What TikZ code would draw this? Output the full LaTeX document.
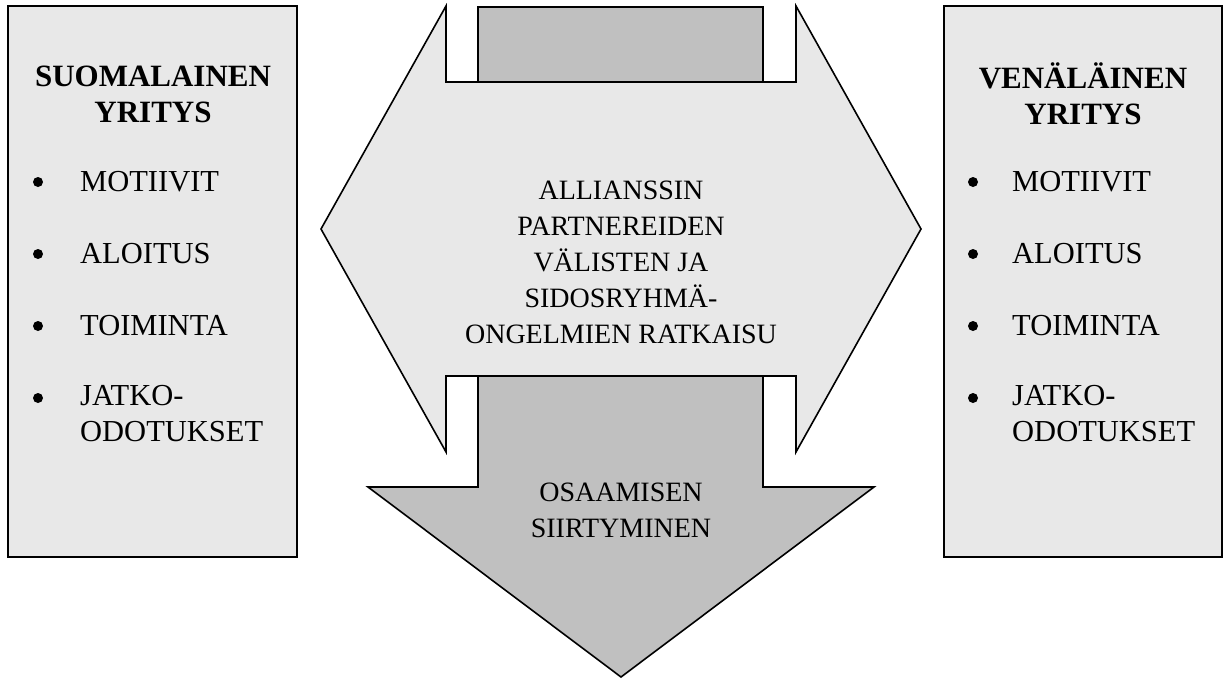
\documentclass[tikz,border=0pt]{standalone}
\usepackage{fontspec}
\setmainfont{Liberation Serif}
\definecolor{palefill}{HTML}{E8E8E8}
\definecolor{darkfill}{HTML}{C0C0C0}
\begin{document}
\begin{tikzpicture}[x=1pt,y=-1pt,
  outline/.style={draw=black,line width=1.6pt,line join=miter},
  sidebox/.style={outline,fill=palefill},
  txt/.style={inner sep=0pt,font=\fontsize{28}{36}\selectfont,align=center},
  title/.style={txt,font=\fontsize{31}{36}\selectfont\bfseries},
  item/.style={txt,anchor=west,align=left,font=\fontsize{30.5}{36}\selectfont},
  dot/.style={circle,fill=black,inner sep=0pt,minimum size=10pt}]
\useasboundingbox (0,0) rectangle (1231,678);

% downward arrow (behind the double arrow)
\path[outline,fill=darkfill]
  (478,7) -- (763,7) -- (763,487) -- (874,487) -- (621,677)
  -- (368,487) -- (478,487) -- cycle;

% notched double-headed arrow
\path[outline,fill=palefill]
  (446,6) -- (446,82) -- (796,82) -- (796,6) -- (921,229) -- (796,452)
  -- (796,376) -- (446,376) -- (446,452) -- (321,229) -- cycle;

\node[txt] (mid) at (621,262) {ALLIANSSIN\\PARTNEREIDEN\\VÄLISTEN JA\\SIDOSRYHMÄ-\\ONGELMIEN RATKAISU};
\node[txt] (down) at (621,510) {OSAAMISEN\\SIIRTYMINEN};

% left company box
\draw[sidebox] (8,6) rectangle (297,557);
\node[title] (fiT) at (153,94) {SUOMALAINEN\\YRITYS};
\foreach \n/\y/\t in {1/182/MOTIIVIT,2/254/ALOITUS,3/326/TOIMINTA}{
  \node[dot] (fiB\n) at (38,\y) {};
  \node[item] (fiI\n) at (80,\y) {\t};
}
\node[dot] (fiB4) at (38,398) {};
\node[item,anchor=north west] (fiI4) at (80,385) {JATKO-\\ODOTUKSET};

% right company box
\draw[sidebox] (944,6) rectangle (1222,557);
\node[title] (ruT) at (1083,94) {VENÄLÄINEN\\YRITYS};
\foreach \n/\y/\t in {1/182/MOTIIVIT,2/254/ALOITUS,3/326/TOIMINTA}{
  \node[dot] (ruB\n) at (973,\y) {};
  \node[item] (ruI\n) at (1012,\y) {\t};
}
\node[dot] (ruB4) at (973,398) {};
\node[item,anchor=north west] (ruI4) at (1012,385) {JATKO-\\ODOTUKSET};
\end{tikzpicture}
\end{document}
